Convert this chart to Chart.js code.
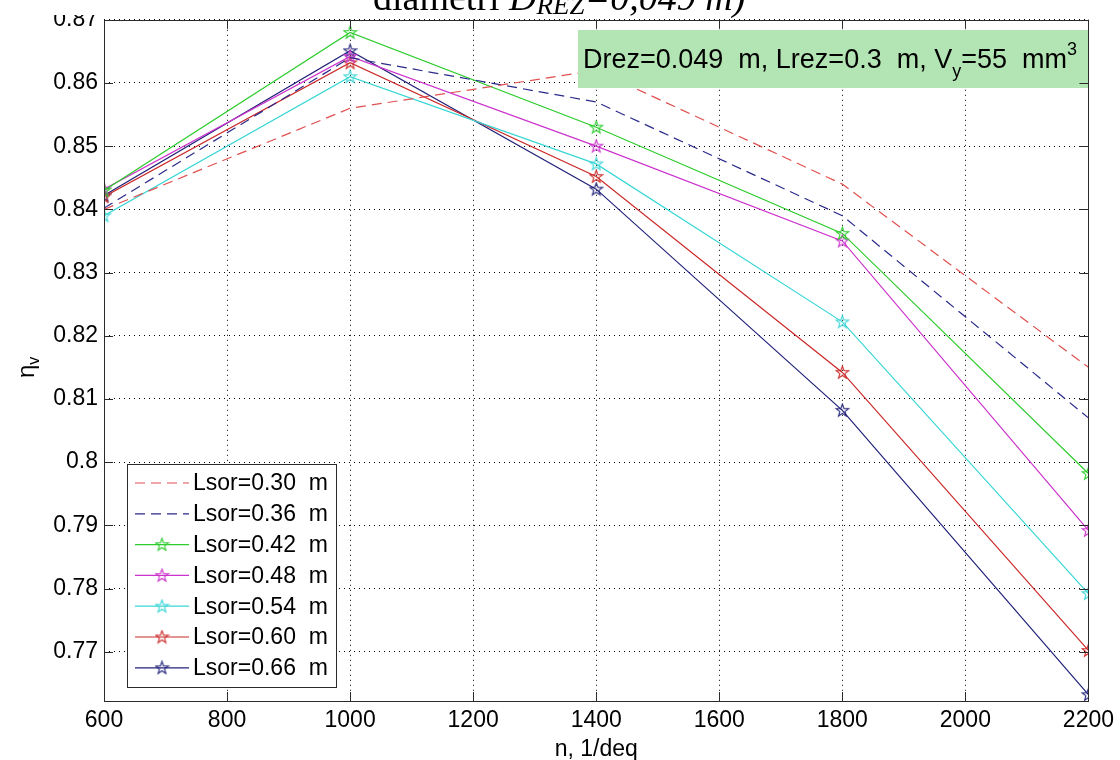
<!DOCTYPE html>
<html><head><meta charset="utf-8">
<script src="https://cdn.jsdelivr.net/npm/chart.js@4.4.1/dist/chart.umd.min.js"></script>
<style>html,body{margin:0;padding:0;background:#fff;overflow:hidden}canvas{display:block}</style>
</head><body>
<canvas id="c" width="1120" height="760"></canvas>
<script>
// ---- data ----
const speeds = [600, 1000, 1400, 1800, 2200];
const lsor030 = [0.8400, 0.8560, 0.8620, 0.8440, 0.8150];
const lsor036 = [0.8402, 0.8640, 0.8570, 0.8390, 0.8070];
const lsor042 = [0.8430, 0.8680, 0.8530, 0.8362, 0.7982];
const lsor048 = [0.8432, 0.8642, 0.8500, 0.8350, 0.7892];
const lsor054 = [0.8390, 0.8610, 0.8472, 0.8222, 0.7792];
const lsor060 = [0.8420, 0.8632, 0.8452, 0.8142, 0.7702];
const lsor066 = [0.8422, 0.8651, 0.8432, 0.8082, 0.7632];
const seriesLabels = ['Lsor=0.30  m','Lsor=0.36  m','Lsor=0.42  m','Lsor=0.48  m','Lsor=0.54  m','Lsor=0.60  m','Lsor=0.66  m'];
const xTicks = [600, 800, 1000, 1200, 1400, 1600, 1800, 2000, 2200];
const yTicks = [0.77, 0.78, 0.79, 0.80, 0.81, 0.82, 0.83, 0.84, 0.85, 0.86, 0.87];

const FONT = '"Liberation Sans", Arial, sans-serif';
const SERIF = '"Liberation Serif", "Times New Roman", serif';

function makeStar(color){
  const c = document.createElement('canvas');
  c.width = 15; c.height = 15;
  const g = c.getContext('2d');
  g.strokeStyle = color; g.lineWidth = 1.1;
  g.beginPath();
  for (let i = 0; i < 10; i++) {
    const r = (i % 2 === 0) ? 6.6 : 2.7;
    const a = -Math.PI/2 + i * Math.PI/5;
    const px = 7.5 + r*Math.cos(a), py = 7.8 + r*Math.sin(a);
    if (i === 0) g.moveTo(px, py); else g.lineTo(px, py);
  }
  g.closePath(); g.stroke();
  return c;
}

const series = [
  {vals: lsor030, color: '#e05050', dash: [10, 6], star: false},
  {vals: lsor036, color: '#2a2a8a', dash: [10, 6], star: false},
  {vals: lsor042, color: '#2ecc2e', dash: [], star: true},
  {vals: lsor048, color: '#cc33cc', dash: [], star: true},
  {vals: lsor054, color: '#3ad6d6', dash: [], star: true},
  {vals: lsor060, color: '#cc2a2a', dash: [], star: true},
  {vals: lsor066, color: '#22227a', dash: [], star: true}
];

const datasets = series.map((s, k) => {
  const img = s.star ? makeStar(s.color) : null;
  return {
    label: seriesLabels[k],
    data: speeds.map((x, i) => ({x: x, y: s.vals[i]})),
    borderColor: s.color,
    backgroundColor: s.color,
    borderWidth: 1.2,
    borderDash: s.dash,
    pointStyle: img || 'circle',
    pointRadius: s.star ? 7 : 0,
    pointHoverRadius: s.star ? 7 : 0,
    tension: 0,
    fill: false,
    _img: img
  };
});

const deco = {
  id: 'deco',
  afterDatasetsDraw(chart) {
    const ctx = chart.ctx;
    // annotation box
    ctx.save();
    ctx.fillStyle = '#b3e4b3';
    ctx.fillRect(578, 30, 510, 58);
    ctx.fillStyle = '#000';
    ctx.textBaseline = 'alphabetic';
    let x = 583; const base = 68;
    const big = '27px ' + FONT, small = '18px ' + FONT;
    const parts = [
      ['Drez=0.049  m, Lrez=0.3  m, V', big, 0],
      ['y', small, 9],
      ['=55  mm', big, 0],
      ['3', small, -13]
    ];
    parts.forEach(p => { ctx.font = p[1]; ctx.fillText(p[0], x, base + p[2]); x += ctx.measureText(p[0]).width; });
    ctx.restore();
  },
  afterDraw(chart) {
    const ctx = chart.ctx;
    const a = chart.chartArea;
    const xs = chart.scales.x, ys = chart.scales.y;
    ctx.save();
    // frame
    ctx.strokeStyle = '#2a2a2a'; ctx.lineWidth = 1;
    ctx.strokeRect(Math.round(a.left) + 0.5, Math.round(a.top) + 0.5, Math.round(a.right - a.left), Math.round(a.bottom - a.top));
    // inward ticks
    ctx.beginPath();
    xTicks.forEach(v => {
      const px = Math.round(xs.getPixelForValue(v)) + 0.5;
      ctx.moveTo(px, a.bottom); ctx.lineTo(px, a.bottom - 9);
      ctx.moveTo(px, a.top); ctx.lineTo(px, a.top + 9);
    });
    yTicks.forEach(v => {
      const py = Math.round(ys.getPixelForValue(v)) + 0.5;
      ctx.moveTo(a.left, py); ctx.lineTo(a.left + 9, py);
      ctx.moveTo(a.right, py); ctx.lineTo(a.right - 9, py);
    });
    ctx.stroke();

    // legend
    const lx = 127, ly = 464, lw = 209, lh = 223;
    ctx.fillStyle = '#fff';
    ctx.fillRect(lx, ly, lw, lh);
    ctx.strokeStyle = '#2a2a2a';
    ctx.strokeRect(lx + 0.5, ly + 0.5, lw, lh);
    chart.data.datasets.forEach((ds, i) => {
      const cy = 483 + i * 30.8;
      ctx.save();
      ctx.strokeStyle = ds.borderColor; ctx.lineWidth = 1.2;
      ctx.setLineDash(ds.borderDash);
      ctx.beginPath(); ctx.moveTo(135, cy); ctx.lineTo(189, cy); ctx.stroke();
      ctx.restore();
      if (ds._img) ctx.drawImage(ds._img, 162 - 7.5, cy - 7.5);
      ctx.fillStyle = '#000';
      ctx.font = '23px ' + FONT;
      ctx.textAlign = 'left';
      ctx.textBaseline = 'middle';
      ctx.fillText(ds.label, 193, cy + 1);
    });

    // x axis title
    ctx.fillStyle = '#000';
    ctx.font = '23px ' + FONT;
    ctx.textAlign = 'center'; ctx.textBaseline = 'alphabetic';
    ctx.fillText('n, 1/deq', (a.left + a.right) / 2, 756);

    // y axis title (rotated)
    ctx.save();
    ctx.translate(34, 378);
    ctx.rotate(-Math.PI / 2);
    ctx.textAlign = 'left';
    ctx.font = '24px ' + FONT;
    ctx.fillText('\u03B7', 0, 0);
    const w = ctx.measureText('\u03B7').width;
    ctx.font = '16px ' + FONT;
    ctx.fillText('v', w, 5);
    ctx.restore();

    // title (partially cut off at top) - its box hides the top of the 0.87 label
    ctx.fillStyle = '#fff';
    ctx.fillRect(0, 0, 100, 15);
    ctx.fillStyle = '#000';
    ctx.textAlign = 'left';
    let tx = 373; const tb = 10;
    const tparts = [
      ['diametri ', '38px ' + SERIF, 0],
      ['D', 'italic 38px ' + SERIF, 0],
      ['REZ', 'italic 27px ' + SERIF, 4],
      ['=0,049 m)', 'italic 38px ' + SERIF, 0]
    ];
    tparts.forEach(p => { ctx.font = p[1]; ctx.fillText(p[0], tx, tb + p[2]); tx += ctx.measureText(p[0]).width; });
    ctx.restore();
  }
};

new Chart(document.getElementById('c'), {
  type: 'line',
  data: { datasets: datasets },
  options: {
    responsive: false,
    animation: false,
    devicePixelRatio: 1,
    layout: { padding: { top: 19, right: 27, left: 0, bottom: 0 } },
    plugins: { legend: { display: false }, tooltip: { enabled: false }, title: { display: false } },
    scales: {
      x: {
        type: 'linear',
        min: 600, max: 2200,
        afterBuildTicks: s => { s.ticks = xTicks.map(v => ({value: v})); },
        afterFit: s => { s.height = 59; },
        grid: { color: '#000', lineWidth: 1, drawTicks: false },
        border: { display: false, dash: [1, 4] },
        ticks: { color: '#000', font: { family: FONT, size: 23 }, padding: 6, maxRotation: 0, autoSkip: false,
                 callback: v => String(v) }
      },
      y: {
        type: 'linear',
        min: 0.7622, max: 0.87,
        afterBuildTicks: s => { s.ticks = yTicks.map(v => ({value: v})); },
        afterFit: s => { s.width = 104; },
        grid: { color: '#000', lineWidth: 1, drawTicks: false },
        border: { display: false, dash: [1, 4] },
        ticks: { color: '#000', font: { family: FONT, size: 23 }, padding: 6, autoSkip: false,
                 callback: v => String(Math.round(v * 100) / 100) }
      }
    }
  },
  plugins: [deco]
});
</script>
</body></html>
